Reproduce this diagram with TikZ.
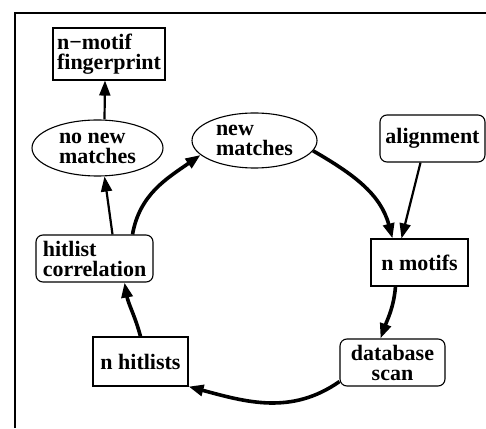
\documentclass[tikz,border=0pt]{standalone}
\usepackage{fontspec}
\setmainfont{Liberation Serif}
\usetikzlibrary{arrows.meta,shapes.geometric}

\begin{document}
\begin{tikzpicture}[x=1pt,y=1pt,
  every node/.style={draw,line width=1.1pt,inner sep=0pt,align=left,font=\fontsize{22}{20}\selectfont\bfseries},
  sq/.style={rectangle,minimum height=47pt},
  rnd/.style={rectangle,rounded corners=7pt,minimum height=47pt},
  oval/.style={ellipse,minimum height=55pt},
  feed/.style={-{Triangle[length=15pt,width=11pt]},line width=2.2pt},
  ring/.style={-{Triangle[length=15pt,width=11pt]},line width=3.6pt}]
  \useasboundingbox (0,0) rectangle (486,428);
  \draw[line width=2.5pt] (15,0) |- (486,415);

  \node[sq,minimum width=112pt,minimum height=52pt] (fprint) at (109,374) {n−motif\\fingerprint};
  \node[oval,minimum width=131pt,minimum height=56pt] (nonew) at (97.5,280) {no new\\matches};
  \node[oval,minimum width=125pt] (newm) at (254.5,287.5) {new\\matches};
  \node[rnd,minimum width=105pt] (align) at (432.5,289.5) {alignment};
  \node[sq,minimum width=97pt] (motifs) at (419.5,165.5) {n motifs};
  \node[rnd,minimum width=105pt,align=center] (scan) at (392.5,65.5) {database\\scan};
  \node[sq,minimum width=95pt,minimum height=49pt] (hitlists) at (140.5,66.5) {n hitlists};
  \node[rnd,minimum width=117pt] (corr) at (94.5,169.5) {hitlist\\correlation};

  \draw[feed] ([xshift=7pt]nonew.north) -- ([xshift=-4pt]fprint.south);
  \draw[feed] ([xshift=18pt]corr.north) -- ([xshift=7pt]nonew.south);
  \draw[feed] ([xshift=-12pt]align.south) -- ([xshift=-18pt]motifs.north);

  \draw[ring] ([xshift=38pt]corr.north) to[out=80,in=215] (newm.195);
  \draw[ring] (newm.-10) to[out=-30,in=105] ([xshift=-27pt]motifs.north);
  \draw[ring] ([xshift=-24pt]motifs.south) to[out=-95,in=70] ([xshift=-12pt]scan.north);
  \draw[ring] ([yshift=5pt]scan.south west) to[out=-145,in=-15] (hitlists.south east);
  \draw[ring] (hitlists.north) to[out=105,in=-80] ([xshift=30pt]corr.south);
\end{tikzpicture}
\end{document}
